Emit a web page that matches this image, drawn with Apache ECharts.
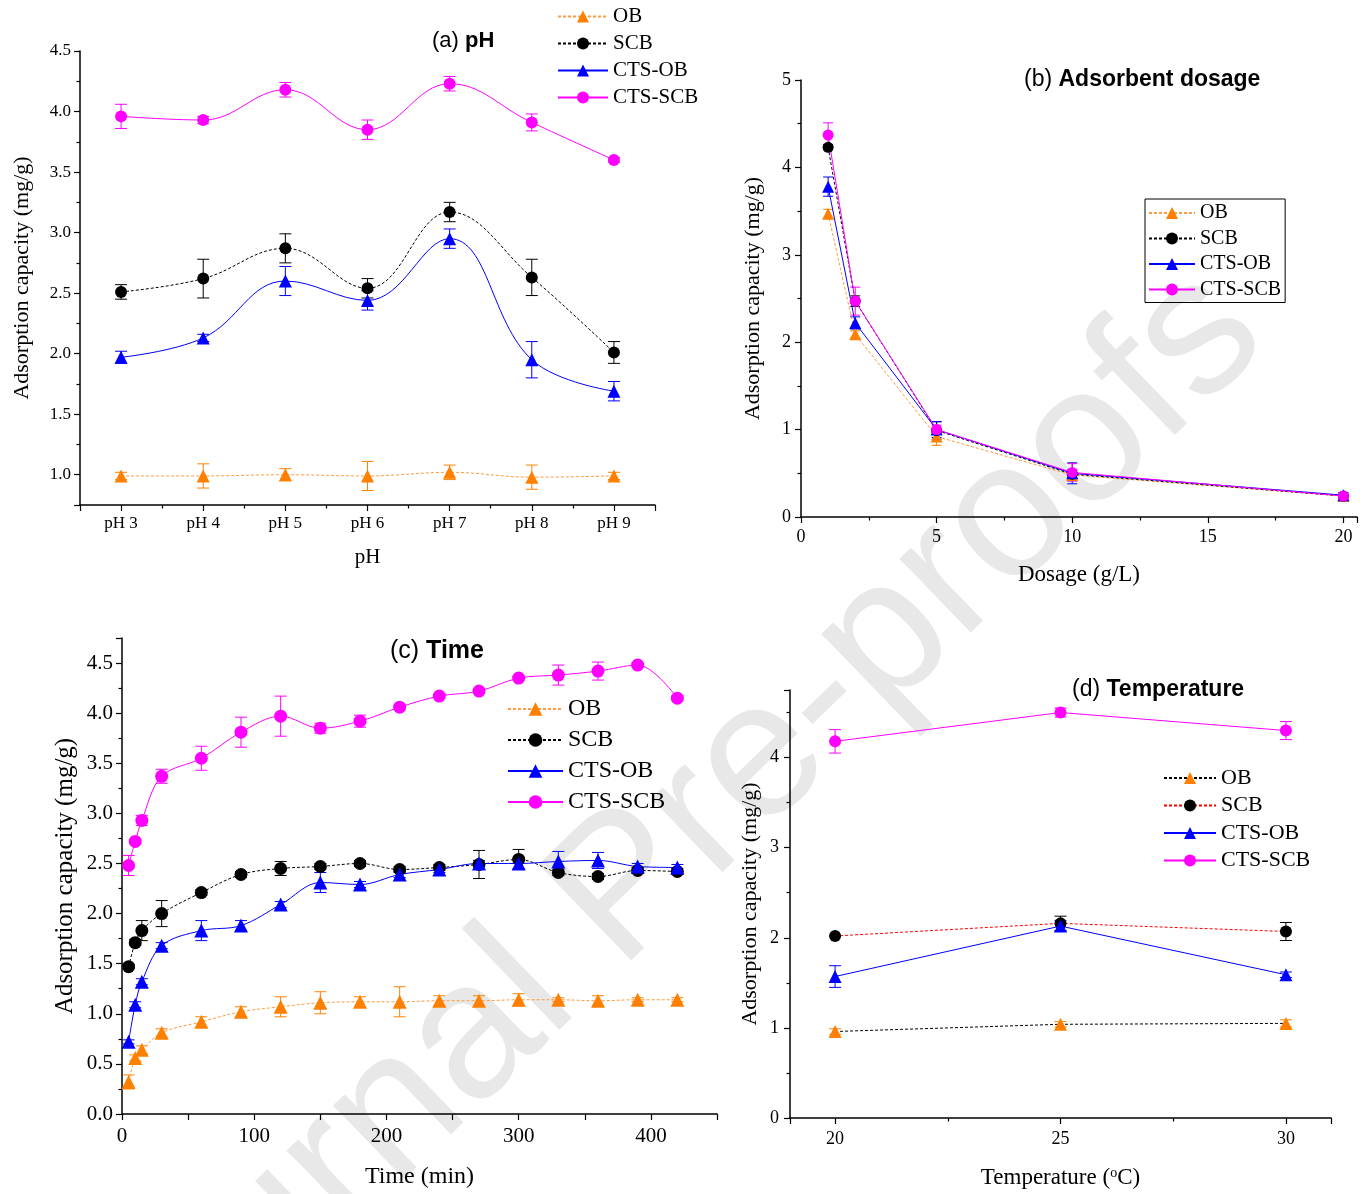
<!DOCTYPE html>
<html>
<head>
<meta charset="utf-8">
<script src="https://cdn.jsdelivr.net/npm/echarts@6/dist/echarts.min.js"></script>
<style>
  html, body { margin: 0; padding: 0; background: #fff; }
  #main { width: 1367px; height: 1194px; }
</style>
</head>
<body>
<div id="main"></div>
<script>
// (a) pH
var phLabels = ['pH 3', 'pH 4', 'pH 5', 'pH 6', 'pH 7', 'pH 8', 'pH 9'];
var phValues = [3, 4, 5, 6, 7, 8, 9];
var phOB = [0.99, 0.99, 1.00, 0.99, 1.02, 0.98, 0.99];
var phOBErr = [0.03, 0.10, 0.05, 0.12, 0.06, 0.10, 0.03];
var phSCB = [2.51, 2.62, 2.87, 2.54, 3.17, 2.63, 2.01];
var phSCBErr = [0.06, 0.16, 0.12, 0.08, 0.08, 0.15, 0.09];
var phCTSOB = [1.97, 2.13, 2.60, 2.44, 2.95, 1.95, 1.69];
var phCTSOBErr = [0.05, 0.03, 0.12, 0.08, 0.08, 0.15, 0.08];
var phCTSSCB = [3.96, 3.93, 4.18, 3.85, 4.23, 3.91, 3.60];
var phCTSSCBErr = [0.10, 0.03, 0.06, 0.08, 0.06, 0.07, 0.02];

// (b) adsorbent dosage (g/L)
var dosage = [1, 2, 5, 10, 20];
var doseOB = [3.47, 2.09, 0.92, 0.48, 0.24];
var doseOBErr = [0.05, 0.04, 0.10, 0.03, 0.02];
var doseSCB = [4.23, 2.47, 0.99, 0.49, 0.24];
var doseSCBErr = [0.03, 0.06, 0.10, 0.05, 0.02];
var doseCTSOB = [3.78, 2.22, 1.00, 0.50, 0.25];
var doseCTSOBErr = [0.11, 0.07, 0.09, 0.12, 0.03];
var doseCTSSCB = [4.37, 2.47, 1.00, 0.51, 0.24];
var doseCTSSCBErr = [0.14, 0.16, 0.05, 0.10, 0.02];

// (c) time (min)
var time = [5, 10, 15, 30, 60, 90, 120, 150, 180, 210, 240, 270, 300, 330, 360, 390, 420];
var timeOB = [0.32, 0.56, 0.64, 0.81, 0.92, 1.02, 1.07, 1.11, 1.12, 1.12, 1.13, 1.13, 1.14, 1.14, 1.13, 1.14, 1.14];
var timeOBErr = [0.07, 0.03, 0.04, 0.04, 0.05, 0.05, 0.10, 0.11, 0.05, 0.15, 0.05, 0.05, 0.06, 0.02, 0.05, 0.02, 0.02];
var timeSCB = [1.47, 1.71, 1.83, 2.00, 2.21, 2.39, 2.45, 2.47, 2.50, 2.44, 2.46, 2.49, 2.54, 2.41, 2.37, 2.43, 2.42];
var timeSCBErr = [0.02, 0.03, 0.10, 0.13, 0.03, 0.03, 0.07, 0.03, 0.03, 0.03, 0.03, 0.14, 0.10, 0.03, 0.03, 0.03, 0.03];
var timeCTSOB = [0.72, 1.09, 1.32, 1.68, 1.83, 1.88, 2.09, 2.31, 2.29, 2.39, 2.44, 2.50, 2.50, 2.52, 2.53, 2.47, 2.46];
var timeCTSOBErr = [0.02, 0.03, 0.03, 0.03, 0.10, 0.05, 0.03, 0.10, 0.03, 0.03, 0.03, 0.03, 0.05, 0.10, 0.08, 0.03, 0.03];
var timeCTSSCB = [2.48, 2.72, 2.93, 3.37, 3.55, 3.81, 3.97, 3.85, 3.92, 4.06, 4.17, 4.22, 4.35, 4.38, 4.42, 4.48, 4.15];
var timeCTSSCBErr = [0.10, 0.02, 0.05, 0.07, 0.12, 0.15, 0.20, 0.05, 0.06, 0.02, 0.02, 0.02, 0.02, 0.10, 0.09, 0.02, 0.02];

// (d) temperature (°C)
var temperature = [20, 25, 30];
var tempOB = [0.96, 1.04, 1.05];
var tempOBErr = [0.03, 0.03, 0.04];
var tempSCB = [2.02, 2.16, 2.07];
var tempSCBErr = [0, 0.08, 0.10];
var tempCTSOB = [1.57, 2.13, 1.59];
var tempCTSOBErr = [0.12, 0.06, 0.03];
var tempCTSSCB = [4.18, 4.50, 4.30];
var tempCTSSCBErr = [0.13, 0.05, 0.10];

var seriesNames = ['OB', 'SCB', 'CTS-OB', 'CTS-SCB'];

var SERIF = 'Liberation Serif';
var SANS = 'Liberation Sans';

// look of each series
var looks = {
  'OB': { symbol: 'triangle', color: '#ff8000', line: '#ff9a40', dash: [3, 2] },
  'SCB': { symbol: 'circle', color: '#000000', line: '#000000', dash: [3, 2] },
  'CTS-OB': { symbol: 'triangle', color: '#0000ff', line: '#0000ff', dash: 'solid' },
  'CTS-SCB': { symbol: 'circle', color: '#ff00ff', line: '#ff00ff', dash: 'solid' }
};

function lineSeries(panel, key, xs, ys, idx, opts) {
  var lk = looks[key];
  var lineColor = (opts.lineColor && opts.lineColor[key]) || lk.line;
  return {
    type: 'line',
    name: panel + ':' + key,
    xAxisIndex: idx,
    yAxisIndex: idx,
    data: xs.map(function (x, i) { return [x, ys[i]]; }),
    symbol: lk.symbol,
    symbolSize: lk.symbol === 'triangle' ? opts.size + 1 : opts.size,
    smooth: opts.smooth,
    showAllSymbol: true,
    lineStyle: { color: lineColor, width: 1, type: lk.dash },
    itemStyle: { color: lk.color },
    emphasis: { disabled: true },
    z: 4
  };
}

function errSeries(panel, key, xs, ys, errs, idx, cap) {
  var color = looks[key].color;
  var data = [];
  xs.forEach(function (x, i) {
    if (errs[i] > 0) data.push([x, ys[i] - errs[i], ys[i] + errs[i]]);
  });
  return {
    type: 'custom',
    name: panel + ':' + key + ':err',
    xAxisIndex: idx,
    yAxisIndex: idx,
    silent: true,
    z: 3,
    encode: { x: 0, y: [1, 2] },
    data: data,
    renderItem: function (params, api) {
      var lo = api.coord([api.value(0), api.value(1)]);
      var hi = api.coord([api.value(0), api.value(2)]);
      var st = { stroke: color, lineWidth: 1 };
      return {
        type: 'group',
        children: [
          { type: 'line', shape: { x1: lo[0], y1: lo[1], x2: hi[0], y2: hi[1] }, style: st },
          { type: 'line', shape: { x1: lo[0] - cap, y1: lo[1], x2: lo[0] + cap, y2: lo[1] }, style: st },
          { type: 'line', shape: { x1: hi[0] - cap, y1: hi[1], x2: hi[0] + cap, y2: hi[1] }, style: st }
        ]
      };
    }
  };
}

function panelSeries(panel, xs, sets, idx, opts) {
  var out = [];
  seriesNames.forEach(function (key, k) {
    out.push(errSeries(panel, key, xs, sets[k][0], sets[k][1], idx, opts.cap));
    out.push(lineSeries(panel, key, xs, sets[k][0], idx, opts));
  });
  return out;
}

function makeLegend(panel, left, top, fontSize, itemWidth, itemHeight, itemGap, boxed) {
  var lg = {
    orient: 'vertical',
    left: left,
    top: top,
    data: seriesNames.map(function (n) { return panel + ':' + n; }),
    formatter: function (name) { return name.split(':')[1]; },
    itemWidth: itemWidth,
    itemHeight: itemHeight,
    itemGap: itemGap,
    padding: 0,
    selectedMode: false,
    textStyle: { fontFamily: SERIF, fontSize: fontSize, color: '#000' }
  };
  if (boxed) {
    lg.borderColor = '#000';
    lg.borderWidth = 1;
    lg.padding = [4, 4, 3, 3];
  }
  return lg;
}

function axisBase(fontSize, margin) {
  return {
    axisLine: { show: true, onZero: false, lineStyle: { color: '#000', width: 1.5 } },
    axisTick: { show: true, inside: false, length: 6, lineStyle: { color: '#000', width: 1.2 } },
    minorTick: { show: true, splitNumber: 2, length: 3.5, lineStyle: { color: '#000', width: 1.2 } },
    splitLine: { show: false },
    axisLabel: { fontFamily: SERIF, fontSize: fontSize, color: '#000', margin: margin },
    nameLocation: 'middle',
    nameTextStyle: { fontFamily: SERIF, color: '#000' }
  };
}

function ext(base, more) {
  var o = JSON.parse(JSON.stringify(base));
  for (var k in more) {
    if (typeof more[k] === 'object' && more[k] !== null && !Array.isArray(more[k]) && o[k]) {
      for (var j in more[k]) o[k][j] = more[k][j];
    } else {
      o[k] = more[k];
    }
  }
  return o;
}

var yName = 'Adsorption capacity (mg/g)';

var xAxes = [
  ext(axisBase(17, 10), {
    type: 'value', gridIndex: 0, min: 2.5, max: 9.5, splitNumber: 7,
    name: 'pH', nameGap: 42, nameTextStyle: { fontSize: 21 },
    axisLabel: { showMinLabel: false, showMaxLabel: false,
      formatter: function (v) { var i = phValues.indexOf(v); return i >= 0 ? phLabels[i] : ''; } }
  }),
  ext(axisBase(18, 11), {
    type: 'value', gridIndex: 1, min: 0, max: 20.5, interval: 5,
    name: 'Dosage (g/L)', nameGap: 46, nameTextStyle: { fontSize: 23 },
    axisLabel: { showMaxLabel: false }
  }),
  ext(axisBase(21, 12), {
    type: 'value', gridIndex: 2, min: 0, max: 450, interval: 50,
    name: 'Time (min)', nameGap: 51, nameTextStyle: { fontSize: 24 },
    minorTick: { show: false },
    axisLabel: { formatter: function (v) { return v % 100 === 0 ? String(v) : ''; } }
  }),
  ext(axisBase(18, 12), {
    type: 'value', gridIndex: 3, min: 19, max: 31, splitNumber: 2,
    name: 'Temperature ({s|o}C)', nameGap: 48,
    nameTextStyle: { fontSize: 23, lineHeight: 24,
      rich: { s: { fontSize: 14, fontFamily: SERIF, verticalAlign: 'top', lineHeight: 14 } } },
    axisLabel: { showMinLabel: false, showMaxLabel: false }
  })
];

var yAxes = [
  ext(axisBase(17, 9), {
    type: 'value', gridIndex: 0, min: 0.75, max: 4.5, splitNumber: 7,
    name: yName, nameGap: 47, nameTextStyle: { fontSize: 22 },
    axisLabel: { showMinLabel: false, formatter: function (v) { return v.toFixed(1); } }
  }),
  ext(axisBase(18, 10), {
    type: 'value', gridIndex: 1, min: 0, max: 5, interval: 1,
    name: yName, nameGap: 37, nameTextStyle: { fontSize: 22 }
  }),
  ext(axisBase(21, 9), {
    type: 'value', gridIndex: 2, min: 0, max: 4.75, interval: 0.5,
    name: yName, nameGap: 44, nameTextStyle: { fontSize: 25 },
    axisLabel: { showMaxLabel: false, formatter: function (v) { return v.toFixed(1); } }
  }),
  ext(axisBase(18, 11), {
    type: 'value', gridIndex: 3, min: 0, max: 4.75, interval: 1,
    name: yName, nameGap: 29, nameTextStyle: { fontSize: 22 },
    axisLabel: { showMaxLabel: false }
  })
];

var series = []
  .concat(panelSeries('a', phValues,
    [[phOB, phOBErr], [phSCB, phSCBErr], [phCTSOB, phCTSOBErr], [phCTSSCB, phCTSSCBErr]],
    0, { size: 12, smooth: 0.4, cap: 6 }))
  .concat(panelSeries('b', dosage,
    [[doseOB, doseOBErr], [doseSCB, doseSCBErr], [doseCTSOB, doseCTSOBErr], [doseCTSSCB, doseCTSSCBErr]],
    1, { size: 11, smooth: false, cap: 5 }))
  .concat(panelSeries('c', time,
    [[timeOB, timeOBErr], [timeSCB, timeSCBErr], [timeCTSOB, timeCTSOBErr], [timeCTSSCB, timeCTSSCBErr]],
    2, { size: 13, smooth: 0.35, cap: 6 }))
  .concat(panelSeries('d', temperature,
    [[tempOB, tempOBErr], [tempSCB, tempSCBErr], [tempCTSOB, tempCTSOBErr], [tempCTSSCB, tempCTSSCBErr]],
    3, { size: 12, smooth: false, cap: 6, lineColor: { 'OB': '#000000', 'SCB': '#ff0000' } }));

function titleText(left, top, tag, word, size) {
  return {
    text: tag + ' {b|' + word + '}',
    left: left, top: top, padding: 0,
    textStyle: {
      fontFamily: SANS, fontSize: size, fontWeight: 'normal', color: '#000',
      rich: { b: { fontFamily: SANS, fontSize: size, fontWeight: 'bold', color: '#000' } }
    }
  };
}

var chart = echarts.init(document.getElementById('main'), null, { renderer: 'canvas' });

chart.setOption({
  backgroundColor: '#fff',
  animation: false,
  title: [
    titleText(432, 30, '(a)', 'pH', 22),
    titleText(1024, 68, '(b)', 'Adsorbent dosage', 23),
    titleText(390, 639, '(c)', 'Time', 25),
    titleText(1072, 678, '(d)', 'Temperature', 23)
  ],
  graphic: [{
    type: 'text',
    z: -10,
    x: 660, y: 858,
    rotation: 44 * Math.PI / 180,
    silent: true,
    style: {
      text: 'Journal Pre-proofs',
      font: '194px "Liberation Sans"',
      fill: '#e8e8e8',
      align: 'center',
      verticalAlign: 'middle'
    }
  }],
  legend: [
    makeLegend('a', 557, 6, 21, 50, 15, 6, false),
    makeLegend('b', 1145, 199, 20, 46, 15, 5.5, true),
    makeLegend('c', 507, 697, 24, 55, 17, 7, false),
    makeLegend('d', 1163, 767, 22, 52, 15, 5.5, false)
  ],
  grid: [
    { left: 80, top: 51, width: 575, height: 454 },
    { left: 801, top: 80, width: 556, height: 437 },
    { left: 122, top: 638, width: 595, height: 476 },
    { left: 790, top: 690, width: 541, height: 428 }
  ],
  xAxis: xAxes,
  yAxis: yAxes,
  series: series
});
</script>
</body>
</html>
